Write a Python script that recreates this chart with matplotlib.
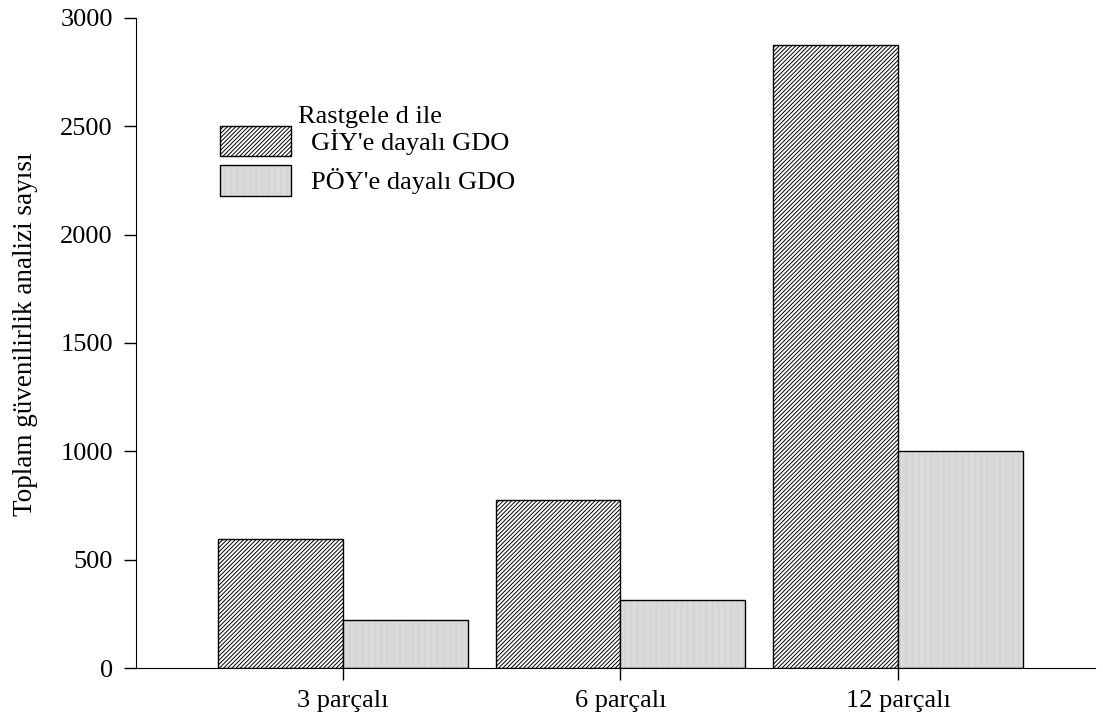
import matplotlib
matplotlib.use("Agg")
import matplotlib.pyplot as plt
import numpy as np
from matplotlib.patches import Patch

categories = ["3 parçalı", "6 parçalı", "12 parçalı"]
giy_values = [595, 777, 2875]
poy_values = [221, 312, 1000]
series_labels = ["GİY'e dayalı GDO", "PÖY'e dayalı GDO"]
legend_title = "Rastgele d ile"
ylabel = "Toplam güvenilirlik analizi sayısı"
yticks = [0, 500, 1000, 1500, 2000, 2500, 3000]

plt.rcParams['font.family'] = ['Liberation Serif', 'DejaVu Serif']
plt.rcParams['hatch.linewidth'] = 0.7

FS = 19

fig = plt.figure(figsize=(11.03, 7.25), dpi=100)
ax = fig.add_axes([0.1233, 0.0786, 0.8694, 0.8966])

x = np.arange(len(categories))
w = 0.45
giy_hatch = '/' * 8
poy_hatch = '|' * 14
poy_color = '#d0d0d0'

# GİY bars: dense diagonal hatch
ax.bar(x - w / 2, giy_values, w, facecolor='white', edgecolor='black',
       hatch=giy_hatch, linewidth=1.0)
# PÖY bars: fine vertical light-gray hatch, then black outline
ax.bar(x + w / 2, poy_values, w, facecolor='white', edgecolor=poy_color,
       hatch=poy_hatch, linewidth=0)
ax.bar(x + w / 2, poy_values, w, fill=False, edgecolor='black', linewidth=1.0)

h1 = Patch(facecolor='white', edgecolor='black', hatch=giy_hatch, linewidth=1.0)
h2a = Patch(facecolor='white', edgecolor=poy_color, hatch=poy_hatch, linewidth=0)
h2b = Patch(fill=False, edgecolor='black', linewidth=1.0)

leg = ax.legend([h1, (h2a, h2b)], series_labels,
                loc='upper left', bbox_to_anchor=(0.0876, 0.834),
                frameon=False, fontsize=FS,
                handlelength=2.7, handleheight=1.4, handletextpad=0.75,
                labelspacing=0.34, borderaxespad=0, borderpad=0)
ax.text(0.244, 0.838, legend_title, transform=ax.transAxes, ha='center',
        va='baseline', fontsize=FS)

ax.set_xlim(-0.746, 2.71)
ax.set_ylim(0, 3000)
ax.set_yticks(yticks)
ax.set_xticks(x)
ax.set_xticklabels(categories)
ax.set_ylabel(ylabel, fontsize=19.5)
ax.yaxis.set_label_coords(-0.102, 0.514)

ax.spines['top'].set_visible(False)
ax.spines['right'].set_visible(False)
ax.tick_params(axis='both', direction='out', length=8.6, width=1.0,
               labelsize=FS)
ax.tick_params(axis='y', pad=8)
ax.tick_params(axis='x', pad=7)

fig.savefig('out.png', dpi=100)
